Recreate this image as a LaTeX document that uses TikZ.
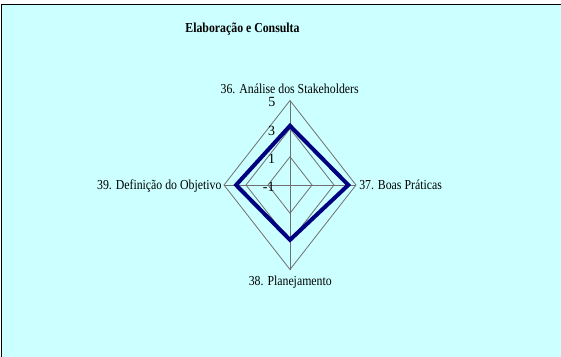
\documentclass[tikz,border=0pt]{standalone}
\usepackage{fontspec}
\setmainfont{Liberation Serif}
\newfontfamily\chartfont{Liberation Serif}[FakeStretch=0.86]
\definecolor{chartbg}{HTML}{CCFFFF}
\definecolor{seriesblue}{HTML}{000080}
\definecolor{webgray}{HTML}{707070}

\begin{document}
\begin{tikzpicture}[x=0.75pt, y=-0.75pt,
	web/.style={draw=webgray, line width=0.6pt},
	lbl/.style={inner sep=0pt, font=\chartfont\fontsize{10.3}{12}\selectfont, text=black},
	ticklbl/.style={inner sep=0pt, anchor=base east, font=\fontsize{10.5}{12}\selectfont, text=black}]
		\useasboundingbox (0,0) rectangle (561,357);
		\fill[white] (0,0) rectangle (561,357);
		\fill[chartbg] (1.5,4.5) rectangle (561,357);
		\draw[line width=0.75pt] (1.5,357) -- (1.5,4.5) -- (561,4.5);
		\node[lbl, anchor=base, font=\chartfont\bfseries\fontsize{10.3}{12}\selectfont] (title) at (242.5,32.5) {Elaboração e Consulta};
		\coordinate (c) at (290,185);
		\coordinate (t36) at (290,100.5);
		\coordinate (t37) at (356,185);
		\coordinate (t38) at (290,269.5);
		\coordinate (t39) at (224,185);
		% web
		\draw[web] (t36) -- (t37) -- (t38) -- (t39) -- cycle;
		\draw[web] (290,128.7) -- (334,185) -- (290,241.3) -- (246,185) -- cycle;
		\draw[web] (290,156.8) -- (312,185) -- (290,213.2) -- (268,185) -- cycle;
		\draw[web] (c) -- (t36);
		\draw[web] (c) -- (t37);
		\draw[web] (c) -- (t38);
		\draw[web] (c) -- (t39);
		% series
		\draw[seriesblue, line width=3pt, line join=miter] (290,125.8) -- (348.3,185) -- (290,239.9) -- (236.1,185) -- cycle;
		% scale
		\node[ticklbl] (v5) at (275.7,106.7) {5};
		\node[ticklbl] (v3) at (275.3,135) {3};
		\node[ticklbl] (v1) at (275.3,163.3) {1};
		\node[ticklbl] (vm1) at (274.8,191.7) {-1};
		% categories
		\node[lbl, anchor=base] (l36) at (289.7,93.3) {36. Análise dos Stakeholders};
		\node[lbl, anchor=base west] (l37) at (359,189.3) {37. Boas Práticas};
		\node[lbl, anchor=base] (l38) at (290.3,285) {38. Planejamento};
		\node[lbl, anchor=base east] (l39) at (221.7,189.3) {39. Definição do Objetivo};
\end{tikzpicture}
\end{document}
